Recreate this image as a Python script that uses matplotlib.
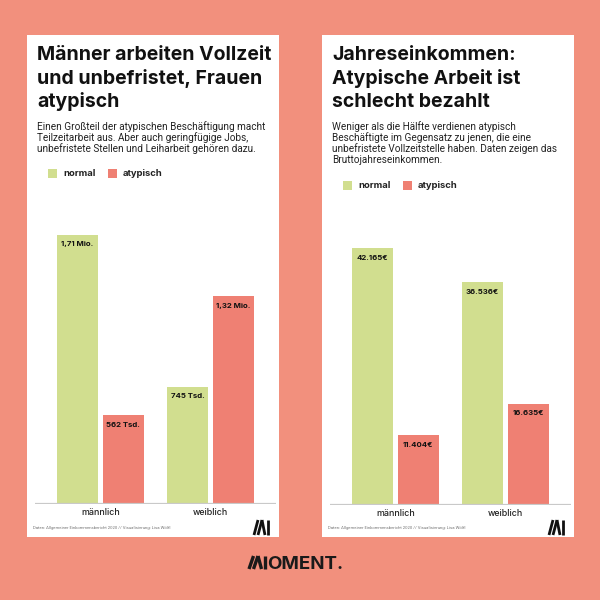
import matplotlib
matplotlib.use("Agg")
import matplotlib.pyplot as plt
from matplotlib.patches import Rectangle
from matplotlib.lines import Line2D
import numpy as np

# ---------------- data ----------------
categories = ["männlich", "weiblich"]
series_names = ["normal", "atypisch"]

emp_normal = [1710000, 745000]
emp_atyp = [562000, 1320000]
emp_normal_labels = ["1,71 Mio.", "745 Tsd."]
emp_atyp_labels = ["562 Tsd.", "1,32 Mio."]

inc_normal = [42165, 36536]
inc_atyp = [11404, 16635]

title_left = ["Männer arbeiten Vollzeit", "und unbefristet, Frauen", "atypisch"]
sub_left = ["Einen Großteil der atypischen Beschäftigung macht",
            "Teilzeitarbeit aus. Aber auch geringfügige Jobs,",
            "unbefristete Stellen und Leiharbeit gehören dazu."]
title_right = ["Jahreseinkommen:", "Atypische Arbeit ist", "schlecht bezahlt"]
sub_right = ["Weniger als die Hälfte verdienen atypisch",
             "Beschäftigte im Gegensatz zu jenen, die eine",
             "unbefristete Vollzeitstelle haben. Daten zeigen das",
             "Bruttojahreseinkommen."]
source = "Daten: Allgemeiner Einkommensbericht 2020 // Visualisierung: Lisa Wölfl"

# ---------------- style ----------------
BG = "#F2907D"
GREEN = "#D1DE8F"
RED = "#EF8073"
TITLE_FONT = "Inter"
BODY_FONT = "Roboto"

W = H = 600
fig = plt.figure(figsize=(6, 6), dpi=100)
fig.patch.set_facecolor(BG)


def fx(x):
    return x / W


def fy(y):
    return 1 - y / H


def ftext(x, y, s, **kw):
    fig.text(fx(x), fy(y), s, **kw)


def panel(x0, title, sub, sub_base, legend_y, values_n, values_a, labels_n, labels_a,
          ymax, baseline):
    # white card
    fig.add_artist(Rectangle((fx(x0), fy(537)), (252) / W, (537 - 35) / H,
                             transform=fig.transFigure, facecolor="white",
                             edgecolor="none", zorder=0))
    # title
    for i, line in enumerate(title):
        ftext(x0 + 10, 60 + i * 23.7, line, fontsize=14.0, fontweight="bold",
              family=TITLE_FONT, va="baseline", ha="left", color="#111111")
    for i, line in enumerate(sub):
        ftext(x0 + 10, sub_base + i * 10.9, line, fontsize=7.2,
              family=BODY_FONT, va="baseline", ha="left", color="#222222")
    # legend
    lx = x0 + 21
    for name, col, off in [(series_names[0], GREEN, 0), (series_names[1], RED, 60)]:
        fig.add_artist(Rectangle((fx(lx + off), fy(legend_y + 4.5)), 9 / W, 9 / H,
                                 transform=fig.transFigure, facecolor=col,
                                 edgecolor="none"))
        ftext(lx + off + 15, legend_y, name, fontsize=6.8, fontweight="bold",
              family=TITLE_FONT, va="center", ha="left", color="#222222")
    # axes
    ax_left = x0 + 8
    ax_w = 241
    top = 200
    ax = fig.add_axes([fx(ax_left), fy(baseline), ax_w / W, (baseline - top) / H])
    ax.set_facecolor("none")
    x = np.arange(len(categories))
    w = 0.373
    off = 0.209
    b1 = ax.bar(x - off, values_n, width=w, color=GREEN, zorder=2)
    b2 = ax.bar(x + off, values_a, width=w, color=RED, zorder=2)
    for bars, labs in [(b1, labels_n), (b2, labels_a)]:
        for rect, lab in zip(bars, labs):
            ax.annotate(lab, (rect.get_x() + rect.get_width() / 2, rect.get_height()),
                        xytext=(0, -7), textcoords="offset points", ha="center",
                        va="center", fontsize=5.6, fontweight="bold",
                        family=TITLE_FONT, color="#111111")
    ax.axhline(0, color="#c9c9c9", lw=1.6, zorder=3)
    ax.set_xlim(-0.595, 1.596)
    ax.set_ylim(0, ymax)
    for s in ax.spines.values():
        s.set_visible(False)
    ax.set_yticks([])
    ax.set_xticks(x)
    ax.set_xticklabels(categories, fontsize=6.4, family=TITLE_FONT,
                       fontweight="medium", color="#222222")
    ax.tick_params(axis="x", length=0, pad=3)
    # footer
    ftext(x0 + 6, 528, source, fontsize=3.1, family=BODY_FONT, va="center",
          ha="left", color="#777777")
    # small logo
    lgx = x0 + 227
    strokes = [((0, 15), (4, 0)), ((4, 15), (8, 0)), ((8, 0), (11, 15)), ((13.5, 0), (13.5, 15))]
    for (a, b) in strokes:
        fig.add_artist(Line2D([fx(lgx + a[0]), fx(lgx + b[0])],
                              [fy(520 + a[1]), fy(520 + b[1])],
                              transform=fig.transFigure, color="#111111", lw=2.0,
                              solid_capstyle="butt"))


emp_scale = 157.5 / 1e6
inc_scale = 6.095 / 1e3
panel(27, title_left, sub_left, 130, 173, emp_normal, emp_atyp,
      emp_normal_labels, emp_atyp_labels, (504 - 200) / emp_scale, 504)
inc_labels_n = [f"{v:,}".replace(",", ".") + "€" for v in inc_normal]
inc_labels_a = [f"{v:,}".replace(",", ".") + "€" for v in inc_atyp]
panel(322, title_right, sub_right, 130, 185, inc_normal, inc_atyp,
      inc_labels_n, inc_labels_a, (505 - 200) / inc_scale, 505)

# bottom brand logo
bx = 249
strokes = [((0, 13), (4.5, 0)), ((4.5, 13), (9, 0)), ((9, 0), (12.5, 13)), ((15.5, 0), (15.5, 13))]
for (a, b) in strokes:
    fig.add_artist(Line2D([fx(bx + a[0]), fx(bx + b[0])],
                          [fy(556 + a[1]), fy(556 + b[1])],
                          transform=fig.transFigure, color="#1a1a1a", lw=2.4,
                          solid_capstyle="butt"))
ftext(bx + 18, 569, "OMENT.", fontsize=13.5, fontweight="bold", family=TITLE_FONT,
      va="baseline", ha="left", color="#1a1a1a")

fig.savefig("out.png", dpi=100, facecolor=BG)
